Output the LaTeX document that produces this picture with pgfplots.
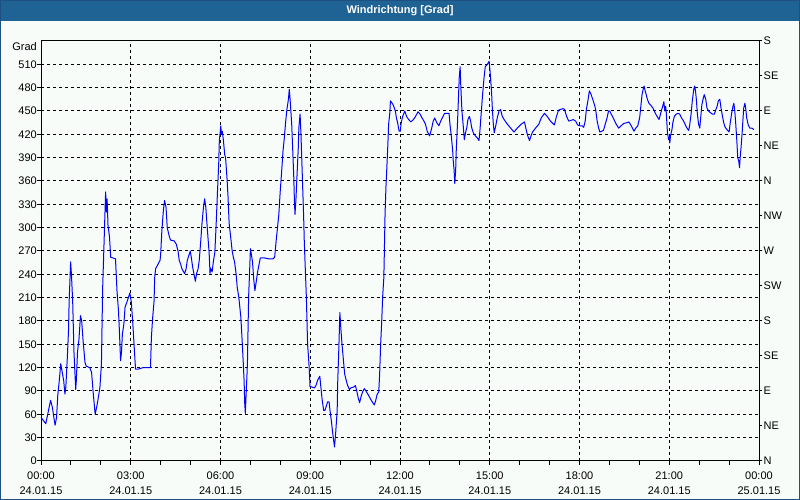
\documentclass[border=0pt]{standalone}
\usepackage{fontspec}
\setmainfont{Liberation Sans}
\usepackage{pgfplots}
\pgfplotsset{compat=1.18}
\definecolor{titlebar}{RGB}{30,99,148}
\definecolor{bg}{RGB}{248,252,248}
\definecolor{frameblue}{RGB}{30,80,130}
\pgfplotstableread{
t v
0.00 56
0.16 48
0.32 78
0.38 69
0.43 56
0.47 46
0.52 56
0.56 84
0.61 103
0.66 125
0.71 114
0.76 103
0.80 86
0.83 95
0.88 133
0.92 168
0.94 204
0.99 256
1.02 238
1.06 204
1.10 142
1.16 92
1.18 103
1.22 140
1.27 157
1.32 187
1.36 180
1.41 153
1.47 127
1.51 122
1.63 120
1.69 114
1.74 90
1.81 60
1.87 71
1.91 80
1.97 95
2.02 125
2.06 221
2.10 271
2.16 346
2.19 320
2.21 337
2.24 303
2.29 288
2.33 262
2.49 260
2.54 219
2.59 193
2.62 168
2.66 129
2.69 140
2.72 163
2.77 176
2.81 198
2.87 204
2.92 210
2.97 216
3.02 204
3.07 176
3.11 150
3.16 118
3.24 118
3.41 120
3.58 120
3.66 120
3.69 159
3.73 183
3.78 206
3.80 236
3.83 247
3.91 253
3.98 258
4.00 266
4.04 296
4.09 322
4.13 335
4.18 326
4.22 300
4.28 290
4.33 284
4.45 283
4.52 279
4.58 270
4.62 258
4.67 253
4.71 247
4.80 241
4.85 247
4.89 258
4.94 264
4.99 270
5.03 260
5.07 249
5.11 241
5.16 231
5.20 241
5.25 247
5.29 258
5.34 283
5.38 305
5.43 326
5.47 337
5.51 326
5.54 309
5.58 288
5.62 268
5.65 241
5.67 248
5.72 243
5.76 256
5.81 268
5.85 300
5.90 347
5.94 382
5.96 411
6.01 431
6.03 420
6.06 424
6.10 411
6.14 394
6.17 390
6.22 362
6.25 341
6.29 305
6.34 288
6.39 270
6.43 262
6.47 256
6.52 241
6.56 223
6.61 211
6.64 200
6.68 185
6.72 157
6.76 127
6.79 102
6.81 74
6.83 61
6.85 80
6.88 106
6.90 125
6.92 168
6.94 211
6.98 251
7.00 273
7.03 266
7.07 256
7.11 234
7.15 219
7.20 232
7.24 243
7.29 253
7.33 261
7.48 261
7.61 260
7.76 260
7.81 262
7.86 283
7.90 298
7.95 317
7.99 343
8.04 370
8.09 399
8.13 414
8.18 437
8.22 452
8.27 465
8.30 478
8.33 463
8.38 433
8.42 394
8.45 364
8.47 335
8.49 317
8.52 335
8.56 369
8.60 403
8.62 429
8.66 446
8.69 420
8.74 360
8.78 313
8.80 283
8.84 241
8.87 211
8.89 181
8.91 151
8.95 129
8.98 108
8.99 96
9.06 95
9.14 94
9.19 97
9.25 104
9.32 109
9.36 93
9.40 78
9.45 65
9.49 65
9.54 71
9.58 76
9.63 76
9.66 65
9.71 50
9.75 36
9.81 18
9.85 36
9.90 65
9.92 104
9.95 138
9.99 191
10.02 172
10.06 151
10.11 129
10.15 112
10.20 104
10.25 97
10.31 92
10.36 94
10.45 95
10.51 97
10.56 89
10.61 80
10.65 75
10.70 83
10.75 89
10.81 93
10.88 89
10.94 85
11.01 80
11.09 75
11.14 72
11.19 78
11.23 85
11.29 89
11.32 112
11.35 147
11.39 181
11.42 211
11.46 236
11.48 275
11.50 317
11.53 352
11.56 377
11.59 403
11.62 433
11.66 448
11.68 463
11.72 461
11.77 458
11.81 454
11.85 449
11.88 441
11.92 435
11.97 424
12.01 424
12.04 435
12.09 443
12.16 450
12.22 443
12.29 439
12.36 436
12.45 439
12.52 443
12.60 449
12.67 446
12.74 441
12.80 437
12.85 433
12.91 424
12.99 418
13.06 428
13.11 437
13.16 441
13.23 435
13.30 431
13.36 437
13.44 443
13.49 447
13.64 447
13.67 433
13.72 416
13.76 399
13.78 386
13.81 373
13.83 357
13.86 373
13.88 399
13.92 433
13.95 463
13.98 493
14.01 507
14.03 484
14.07 450
14.12 428
14.15 413
14.19 422
14.23 428
14.27 439
14.32 443
14.36 437
14.40 428
14.45 422
14.52 418
14.59 415
14.64 412
14.67 424
14.72 450
14.76 471
14.81 493
14.85 507
14.92 510
14.98 514
15.01 501
15.06 475
15.09 450
15.12 433
15.15 422
15.20 431
15.25 441
15.31 450
15.36 452
15.42 443
15.48 439
15.59 433
15.70 428
15.81 423
15.92 428
16.05 433
16.16 436
16.23 424
16.27 418
16.33 412
16.38 418
16.43 423
16.53 428
16.64 433
16.72 441
16.83 447
16.92 443
17.03 437
17.16 432
17.23 443
17.30 451
17.36 452
17.45 453
17.50 452
17.57 443
17.64 437
17.72 438
17.79 439
17.87 437
17.94 432
18.00 431
18.09 431
18.14 429
18.19 437
18.23 452
18.28 463
18.33 476
18.39 471
18.46 463
18.50 458
18.54 452
18.59 437
18.64 428
18.68 423
18.74 424
18.80 425
18.86 433
18.92 441
18.97 450
19.01 450
19.06 446
19.13 441
19.20 435
19.26 431
19.31 428
19.39 431
19.48 434
19.59 435
19.65 436
19.70 433
19.77 428
19.82 424
19.88 428
19.95 431
19.97 435
20.01 441
20.05 456
20.09 471
20.14 480
20.16 482
20.20 475
20.23 471
20.27 465
20.32 460
20.39 457
20.45 454
20.50 450
20.55 446
20.61 442
20.66 439
20.72 448
20.78 456
20.82 462
20.85 450
20.88 456
20.90 448
20.92 435
20.94 422
20.98 413
21.00 416
21.02 409
21.04 418
21.09 426
21.12 435
21.17 443
21.23 446
21.30 447
21.35 446
21.41 441
21.48 437
21.54 432
21.59 428
21.65 425
21.68 431
21.73 446
21.77 463
21.82 478
21.85 482
21.88 475
21.91 463
21.94 446
21.98 433
22.02 428
22.05 441
22.09 458
22.14 467
22.17 471
22.22 465
22.26 454
22.31 450
22.37 448
22.44 446
22.51 446
22.55 451
22.60 456
22.64 463
22.69 465
22.73 454
22.78 443
22.82 435
22.87 429
22.93 426
23.00 423
23.04 435
23.09 448
23.13 456
23.16 460
23.19 450
23.22 435
23.26 411
23.29 390
23.32 386
23.35 377
23.37 390
23.40 403
23.44 424
23.47 443
23.49 454
23.53 460
23.56 452
23.59 441
23.64 432
23.69 428
23.76 428
23.83 426
}\winddata
\begin{document}
\begin{tikzpicture}[x=1pt,y=1pt,font=\fontsize{11}{14}\selectfont]
\fill[bg] (0,0) rectangle (800,500);
\fill[titlebar] (0,479) rectangle (800,500);
\draw[frameblue, line width=1pt] (0.5,0.5) rectangle (799.5,499.5);
\node[white, font=\fontsize{11}{14}\selectfont\bfseries] at (400,489.5) {Windrichtung [Grad]};
\path[use as bounding box] (0,0) rectangle (800,500);
\begin{axis}[
  at={(41pt,39pt)}, anchor=south west, scale only axis,
  width=718pt, height=420pt,
  xmin=0, xmax=24, ymin=0, ymax=540,
  /pgf/number format/assume math mode=true,
  xtick={0,3,...,24}, minor x tick num=2,
  xticklabels={{00:00\\24.01.15},{03:00\\24.01.15},{06:00\\24.01.15},{09:00\\24.01.15},{12:00\\24.01.15},{15:00\\24.01.15},{18:00\\24.01.15},{21:00\\24.01.15},{00:00\\25.01.15}},
  xticklabel style={align=center, font=\fontsize{11}{15}\selectfont, inner sep=3pt, yshift=-4pt},
  ytick={0,30,...,510},
  yticklabel style={inner sep=0pt, font=\fontsize{11}{14}\selectfont},
  xtick pos=left, ytick pos=left,
  tick align=outside, major tick length=4pt, minor tick length=4pt,
  tick style={black, line width=1pt},
  axis line style={black, line width=1pt},
  grid=major,
  major grid style={black, line width=1pt, dash pattern=on 3pt off 3pt},
  clip=false,
]
\addplot[blue, line width=1pt, mark=none, line join=round] table[x=t,y=v] {\winddata};
\node[anchor=east, inner sep=0pt] at (rel axis cs:0,1) [xshift=-4pt, yshift=-6pt] {Grad};
\end{axis}
\begin{axis}[
  at={(41pt,39pt)}, anchor=south west, scale only axis,
  width=718pt, height=420pt,
  xmin=0, xmax=24, ymin=0, ymax=540,
  axis x line=none, axis y line*=right,
  ytick={0,45,...,540},
  yticklabels={N,NE,E,SE,S,SW,W,NW,N,NE,E,SE,S},
  yticklabel style={inner sep=0pt, anchor=west, xshift=1.5pt, font=\fontsize{11}{14}\selectfont},
  tick align=outside, major tick length=3pt,
  tick style={black, line width=1pt},
  axis line style={black, line width=1pt},
]
\end{axis}
\end{tikzpicture}
\end{document}
